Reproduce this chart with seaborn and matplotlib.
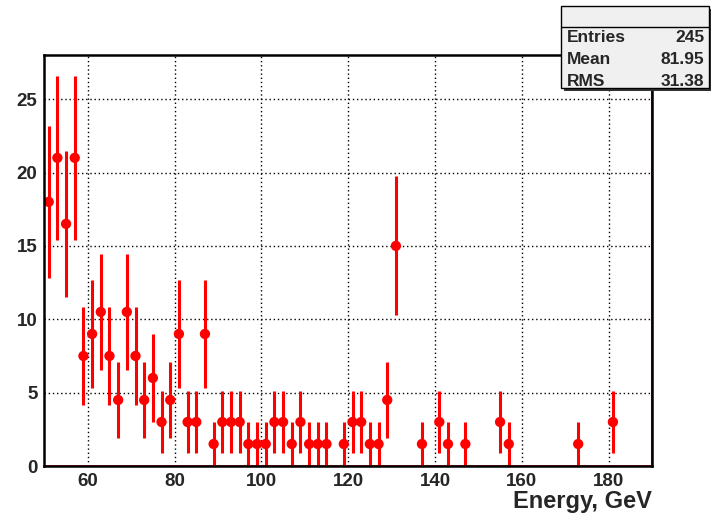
import numpy as np
import pandas as pd
import matplotlib
matplotlib.use("Agg")
import matplotlib.pyplot as plt
from matplotlib.patches import Rectangle
from matplotlib.ticker import MultipleLocator
import seaborn as sns

# Histogram contents (non-empty 2 GeV bins): bin centre, weighted content, error
energy = [51, 53, 55, 57, 59, 61, 63, 65, 67, 69, 71, 73, 75, 77, 79, 81, 83, 85,
          87, 89, 91, 93, 95, 97, 99, 101, 103, 105, 107, 109, 111, 113, 115,
          119, 121, 123, 125, 127, 129, 131, 137, 141, 143, 147, 155, 157, 173, 181]
content = [18, 21, 16.5, 21, 7.5, 9, 10.5, 7.5, 4.5, 10.5, 7.5, 4.5, 6, 3, 4.5, 9, 3, 3,
           9, 1.5, 3, 3, 3, 1.5, 1.5, 1.5, 3, 3, 1.5, 3, 1.5, 1.5, 1.5,
           1.5, 3, 3, 1.5, 1.5, 4.5, 15, 1.5, 3, 1.5, 1.5, 3, 1.5, 1.5, 3]
error = [5.2, 5.61, 4.97, 5.61, 3.35, 3.67, 3.97, 3.35, 2.6, 3.97, 3.35, 2.6, 3.0, 2.12,
         2.6, 3.67, 2.12, 2.12, 3.67, 1.5, 2.12, 2.12, 2.12, 1.5, 1.5, 1.5, 2.12, 2.12,
         1.5, 2.12, 1.5, 1.5, 1.5, 1.5, 2.12, 2.12, 1.5, 1.5, 2.6, 4.74, 1.5, 2.12,
         1.5, 1.5, 2.12, 1.5, 1.5, 2.12]

stats_names = ["Entries", "Mean", "RMS"]
stats_values = ["245", "81.95", "31.38"]

df = pd.DataFrame({"energy": energy, "content": content, "error": error})

sns.set_theme(style="white")
plt.rcParams["font.family"] = ["Liberation Sans", "DejaVu Sans"]
plt.rcParams["font.weight"] = "bold"

fig = plt.figure(figsize=(7.11, 5.15), dpi=100)
ax = fig.add_axes([0.0624, 0.0951, 0.8546, 0.7979])

# grid
for gx in [60, 80, 100, 120, 140, 160, 180]:
    ax.axvline(gx, color="black", lw=1.0, linestyle=(0, (1, 2)), zorder=1)
for gy in [5, 10, 15, 20, 25]:
    ax.axhline(gy, color="black", lw=1.0, linestyle=(0, (1, 2)), zorder=1)

# error bars and points
ax.vlines(df["energy"], df["content"] - df["error"], df["content"] + df["error"],
          color="#ff0000", lw=2.2, zorder=3)
sns.scatterplot(data=df, x="energy", y="content", ax=ax, color="#ff0000",
                s=55, edgecolor="none", zorder=4, legend=False)

# histogram outline along the baseline and right edge
ax.axhline(0, color="#ff0000", lw=1.2, zorder=5)
ax.axvline(190, color="#ff0000", lw=1.5, zorder=5)

ax.set_xlim(50, 190)
ax.set_ylim(0, 28)
ax.xaxis.set_major_locator(MultipleLocator(20))
ax.xaxis.set_minor_locator(MultipleLocator(5))
ax.yaxis.set_major_locator(MultipleLocator(5))
ax.yaxis.set_minor_locator(MultipleLocator(1))
ax.tick_params(which="both", direction="in", top=False, right=False,
               color="black", width=1.2)
ax.tick_params(which="major", length=9, labelsize=13.5, pad=5)
ax.tick_params(which="minor", length=6)
for lab in ax.get_xticklabels() + ax.get_yticklabels():
    lab.set_fontweight("bold")

for sp in ax.spines.values():
    sp.set_color("black")
    sp.set_linewidth(1.8)
    sp.set_zorder(6)

ax.set_xlabel("")
ax.set_ylabel("")
fig.text(0.917, 0.0136, "Energy, GeV", ha="right", va="baseline",
         fontsize=17, fontweight="bold")

# statistics box
bx0, bx1 = 561 / 711, 709 / 711
by0, by1 = 1 - 88 / 515, 1 - 6 / 515
sh = 3 / 711
fig.patches.append(Rectangle((bx0 + sh, by0 - 3 / 515), bx1 - bx0, by1 - by0,
                             transform=fig.transFigure, facecolor="#333333",
                             edgecolor="none", zorder=9))
fig.patches.append(Rectangle((bx0, by0), bx1 - bx0, by1 - by0,
                             transform=fig.transFigure, facecolor="#f0f0f0",
                             edgecolor="black", lw=1.0, zorder=10))
fig.lines.append(plt.Line2D([bx0, bx1], [1 - 27 / 515, 1 - 27 / 515],
                            transform=fig.transFigure, color="black", lw=1.0,
                            zorder=11))
for i, (name, val) in enumerate(zip(stats_names, stats_values)):
    yy = 1 - (37 + 22 * i) / 515
    fig.text(567 / 711, yy, name, ha="left", va="center", fontsize=12.5,
             fontweight="bold", zorder=12)
    fig.text(704 / 711, yy, val, ha="right", va="center", fontsize=12.5,
             fontweight="bold", zorder=12)

fig.savefig("out.png", dpi=100)
